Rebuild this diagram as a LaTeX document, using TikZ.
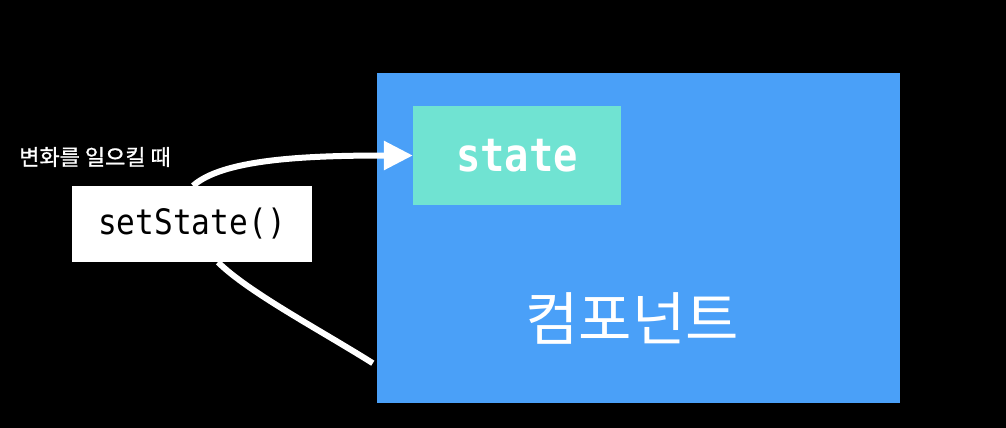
\documentclass[tikz,border=0pt]{standalone}
\usepackage{fontspec}
\usetikzlibrary{arrows.meta}
\newfontfamily\kr{Noto Sans CJK KR}
\newfontfamily\krm[FakeBold=0.8]{Noto Sans CJK KR}
\newfontfamily\monoA[FakeStretch=0.89]{DejaVu Sans Mono}
\newfontfamily\monoB[FakeStretch=0.88]{DejaVu Sans Mono Bold}
\definecolor{compblue}{RGB}{74,160,248}
\definecolor{stteal}{RGB}{112,227,210}
\tikzset{
  box/.style={rectangle, inner sep=0pt, draw=none},
  flow/.style={white, line width=6pt},
}
\begin{document}
\begin{tikzpicture}[x=1pt,y=-1pt]
\fill[black] (0,0) rectangle (1006,428);
\useasboundingbox (0,0) rectangle (1006,428);
\node[box, fill=compblue, minimum width=523pt, minimum height=330pt] (comp) at (638.5,238) {};
\node[text=white, font=\kr\fontsize{58}{64}\selectfont] (complabel) at (632,318) {컴포넌트};
\node[box, fill=stteal, minimum width=208pt, minimum height=99pt, text=white, font=\monoB\fontsize{46}{50}\selectfont] (st) at (517,155.5) {state};
\node[box, fill=white, minimum width=240pt, minimum height=76pt, text=black, font=\monoA\fontsize{35}{40}\selectfont] (ss) at (192,224) {setState()};
\node[text=white, font=\krm\fontsize{22}{26}\selectfont] (lbl) at (95,157) {변화를 일으킬 때};
\coordinate (lowend) at ([xshift=-4pt,yshift=40pt]comp.south west);
\draw[flow, -{Triangle[width=28pt,length=29pt]}] ([xshift=1pt]ss.north) .. controls (222,160) and (300,155.5) .. (st.west);
\draw[flow] ([xshift=26pt]ss.south) .. controls (248,292) and (320,330) .. (lowend);
\end{tikzpicture}
\end{document}
